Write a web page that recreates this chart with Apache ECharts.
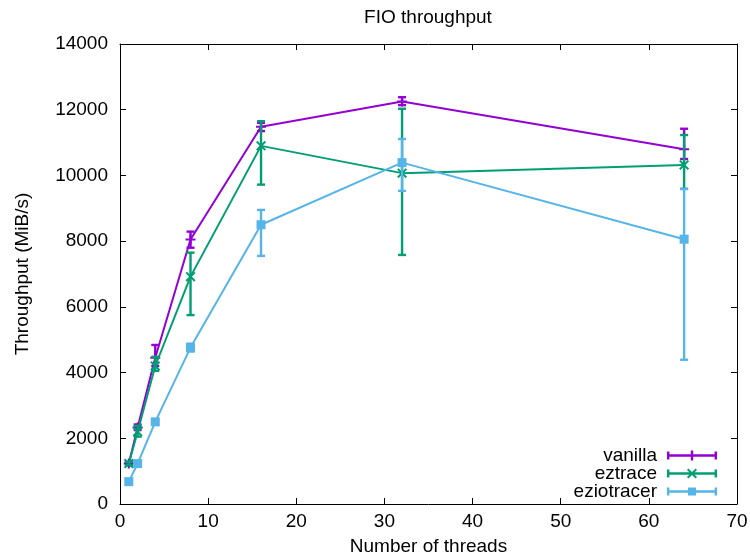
<!DOCTYPE html>
<html>
<head>
<meta charset="utf-8">
<script src="https://cdn.jsdelivr.net/npm/echarts@6/dist/echarts.min.js"></script>
<style>html,body{margin:0;padding:0;background:#fff}#c{width:750px;height:556px}</style>
</head>
<body>
<div id="c"></div>
<script>
var threads = [1, 2, 4, 8, 16, 32, 64];
var seriesNames = ['vanilla', 'eztrace', 'eziotracer'];
var vanillaMean = [1230, 2330, 4450, 8050, 11480, 12250, 10800];
var vanillaLow  = [1180, 2250, 4200, 7800, 11350, 12140, 10500];
var vanillaHigh = [1280, 2420, 4840, 8290, 11600, 12380, 11420];
var eztraceMean = [1230, 2200, 4200, 6920, 10900, 10070, 10320];
var eztraceLow  = [1180, 2050, 4050, 5750, 9720, 7580, 9590];
var eztraceHigh = [1280, 2380, 4480, 7650, 11650, 12030, 11230];
var eziotracerMean = [680, 1230, 2500, 4760, 8500, 10390, 8060];
var eziotracerLow  = [620, 1180, 2420, 4640, 7550, 9530, 4390];
var eziotracerHigh = [740, 1280, 2580, 4880, 8950, 11110, 9590];
var xTicks = [0, 10, 20, 30, 40, 50, 60, 70];
var yTicks = [0, 2000, 4000, 6000, 8000, 10000, 12000, 14000];

var colors = ['#9400D3', '#009E73', '#56B4E9'];
var FONT = 'Liberation Sans';
var FS = 19;

var symPlus = 'path://M4,0H6V4H10V6H6V10H4V6H0V4H4Z';
var symCross = 'path://M0,1.4L1.4,0L5,3.6L8.6,0L10,1.4L6.4,5L10,8.6L8.6,10L5,6.4L1.4,10L0,8.6L3.6,5Z';
var base = 'M0,1H2.4V9H0Z M47.6,1H50V9H47.6Z M0,3.8H50V6.2H0Z ';
var legPlus = 'path://' + base + 'M23.8,0H26.2V10H23.8Z M19,3.8H31V6.2H19Z';
var legCross = 'path://' + base + 'M20,1.4L21.4,0L25,3.6L28.6,0L30,1.4L26.4,5L30,8.6L28.6,10L25,6.4L21.4,10L20,8.6L23.6,5Z';
var legSquare = 'path://' + base + 'M21,1H29V9H21Z';

function pairs(xs, ys) { return xs.map(function (x, i) { return [x, ys[i]]; }); }
function triples(xs, lo, hi) { return xs.map(function (x, i) { return [x, lo[i], hi[i]]; }); }

function errRender(color) {
  return function (params, api) {
    var x = api.value(0);
    var p1 = api.coord([x, api.value(1)]);
    var p2 = api.coord([x, api.value(2)]);
    var w = 4;
    var st = { stroke: color, lineWidth: 2.4 };
    return {
      type: 'group',
      children: [
        { type: 'line', shape: { x1: p1[0], y1: p1[1], x2: p2[0], y2: p2[1] }, style: st },
        { type: 'line', shape: { x1: p1[0] - w, y1: p1[1], x2: p1[0] + w, y2: p1[1] }, style: st },
        { type: 'line', shape: { x1: p2[0] - w, y1: p2[1], x2: p2[0] + w, y2: p2[1] }, style: st }
      ]
    };
  };
}

var means = [vanillaMean, eztraceMean, eziotracerMean];
var lows = [vanillaLow, eztraceLow, eziotracerLow];
var highs = [vanillaHigh, eztraceHigh, eziotracerHigh];
var syms = [symPlus, symCross, 'rect'];
var legIcons = [legPlus, legCross, legSquare];

var series = [];
seriesNames.forEach(function (name, k) {
  series.push({
    name: name, type: 'line', data: pairs(threads, means[k]),
    symbol: syms[k], symbolSize: k === 2 ? 9 : 10, showSymbol: true,
    color: colors[k], lineStyle: { width: 2, color: colors[k] },
    itemStyle: { color: colors[k], borderWidth: 0 },
    z: 2 + k * 2, animation: false
  });
  series.push({
    name: name, type: 'custom', data: triples(threads, lows[k], highs[k]),
    renderItem: errRender(colors[k]), color: colors[k],
    encode: { x: 0, y: [1, 2] }, z: 3 + k * 2, animation: false
  });
});

function axisBase() {
  return {
    axisLine: { show: true, onZero: false, lineStyle: { color: '#000', width: 1 } },
    axisTick: { show: true, inside: true, length: 6, lineStyle: { color: '#000', width: 1 } },
    splitLine: { show: false }
  };
}
function plain(v) { return String(v); }

var xMain = axisBase();
Object.assign(xMain, {
  type: 'value', position: 'bottom', min: xTicks[0], max: xTicks[xTicks.length - 1], interval: xTicks[1] - xTicks[0],
  name: 'Number of threads', nameLocation: 'middle', nameGap: 33,
  nameTextStyle: { fontFamily: FONT, fontSize: FS, color: '#000' },
  axisLabel: { fontFamily: FONT, fontSize: FS, color: '#000', margin: 8, formatter: plain }
});
var xTop = axisBase();
Object.assign(xTop, {
  type: 'value', position: 'top', min: xTicks[0], max: xTicks[xTicks.length - 1], interval: xTicks[1] - xTicks[0],
  axisLabel: { show: false }
});
var yMain = axisBase();
Object.assign(yMain, {
  type: 'value', position: 'left', min: yTicks[0], max: yTicks[yTicks.length - 1], interval: yTicks[1] - yTicks[0],
  name: 'Throughput (MiB/s)', nameLocation: 'middle', nameGap: 88, nameRotate: 90,
  nameTextStyle: { fontFamily: FONT, fontSize: FS, color: '#000' },
  axisLabel: { fontFamily: FONT, fontSize: FS, color: '#000', margin: 12, formatter: plain }
});
var yRight = axisBase();
Object.assign(yRight, {
  type: 'value', position: 'right', min: yTicks[0], max: yTicks[yTicks.length - 1], interval: yTicks[1] - yTicks[0],
  axisLabel: { show: false }
});

var chart = echarts.init(document.getElementById('c'), null, { renderer: 'canvas' });
chart.setOption({
  backgroundColor: '#fff',
  animation: false,
  title: {
    text: 'FIO throughput', left: 428, top: 8, textAlign: 'center', padding: 0,
    textStyle: { fontFamily: FONT, fontSize: FS, fontWeight: 'normal', color: '#000' }
  },
  grid: { left: 120, right: 13, top: 44, bottom: 52, containLabel: false, outerBoundsMode: 'none' },
  legend: {
    orient: 'vertical', align: 'right', right: 33, bottom: 55, padding: 0,
    itemWidth: 50, itemHeight: 10, itemGap: -1,
    data: seriesNames.map(function (n, k) { return { name: n, icon: legIcons[k] }; }),
    itemStyle: { borderWidth: 0 },
    textStyle: { fontFamily: FONT, fontSize: FS, color: '#000', lineHeight: 18, padding: [0, 5, 0, 0] },
    selectedMode: true
  },
  xAxis: [xMain, xTop],
  yAxis: [yMain, yRight],
  series: series
});
</script>
</body>
</html>
